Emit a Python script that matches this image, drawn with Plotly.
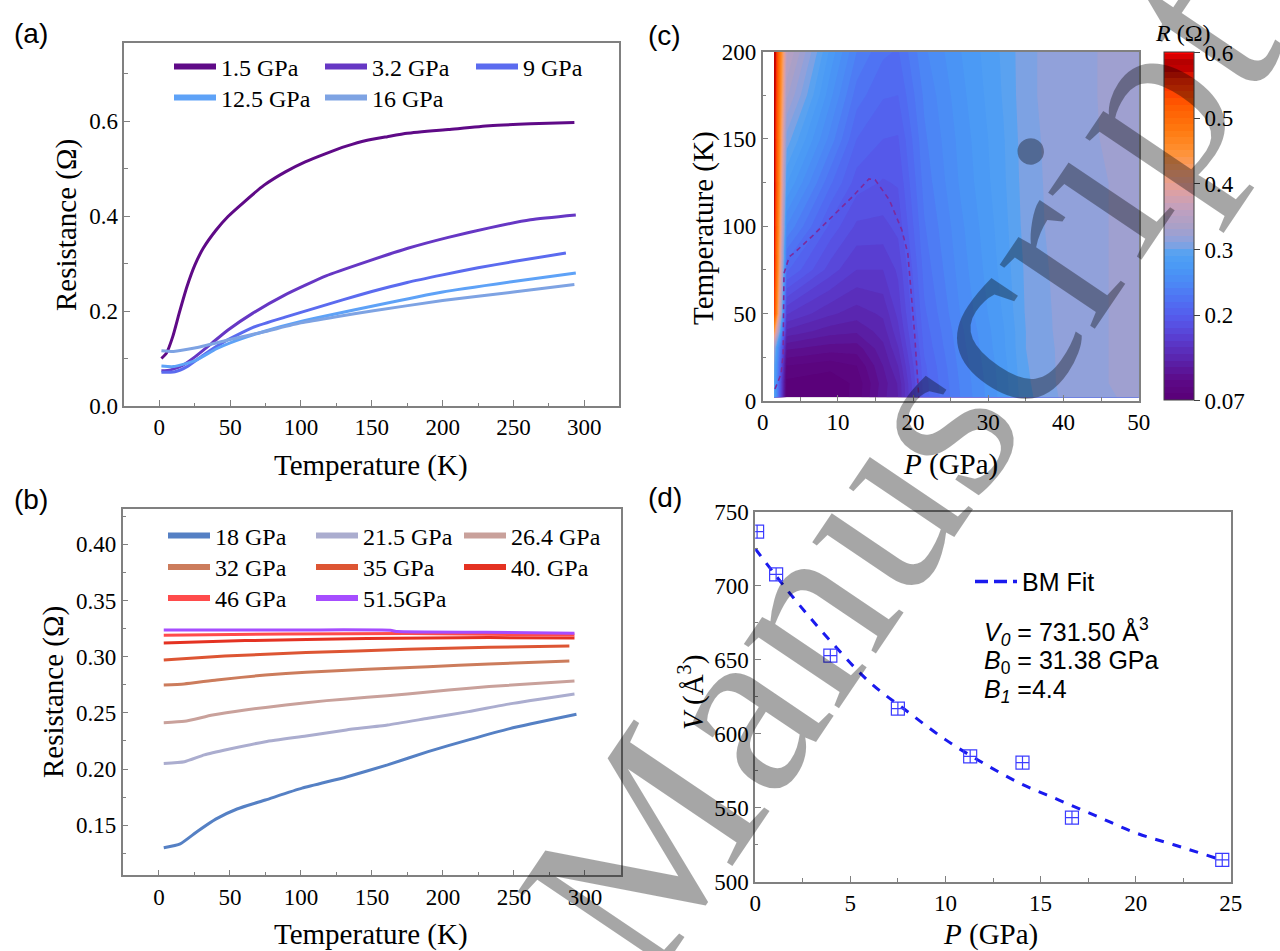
import plotly.graph_objects as go

W, H = 1280, 951

# ---------------- Panel (a) data ----------------
a_names = ["1.5 GPa", "3.2 GPa", "9 GPa", "12.5 GPa", "16 GPa"]
a_colors = ["#5f0a87", "#6637c4", "#5b6bef", "#5ea2f7", "#7ea3e3"]
a_T_1p5 = [1.5, 5, 9.5, 14, 19.5, 25, 31, 40, 48.5, 60, 74, 89, 103, 118, 132, 146, 161, 175, 204, 233, 262, 293]
a_R_1p5 = [0.100, 0.111, 0.146, 0.195, 0.251, 0.296, 0.332, 0.370, 0.399, 0.430, 0.465, 0.493, 0.514, 0.532,
           0.547, 0.559, 0.567, 0.574, 0.582, 0.590, 0.594, 0.597]
a_T_3p2 = [1.5, 8, 16.7, 25.4, 37, 48.5, 65.8, 88.8, 117.7, 146.5, 175.4, 204, 233, 262, 294]
a_R_3p2 = [0.074, 0.076, 0.086, 0.104, 0.132, 0.160, 0.195, 0.234, 0.274, 0.304, 0.332, 0.355, 0.375, 0.392, 0.402]
a_T_9 = [1.5, 11, 19.6, 31, 45.6, 65.8, 88.8, 110, 130, 150, 175, 200, 225, 250, 287]
a_R_9 = [0.071, 0.072, 0.083, 0.107, 0.135, 0.165, 0.187, 0.206, 0.224, 0.241, 0.260, 0.276, 0.291, 0.304, 0.322]
a_T_12p5 = [1.5, 10, 25, 40, 50, 75, 100, 150, 200, 250, 294]
a_R_12p5 = [0.084, 0.083, 0.095, 0.120, 0.133, 0.158, 0.178, 0.210, 0.240, 0.262, 0.280]
a_T_16 = [1.5, 10, 25, 50, 75, 100, 125, 150, 200, 250, 293]
a_R_16 = [0.1165, 0.115, 0.122, 0.140, 0.157, 0.175, 0.188, 0.200, 0.222, 0.240, 0.256]

# ---------------- Panel (b) data ----------------
b_names = ["18 GPa", "21.5 GPa", "26.4 GPa", "32 GPa", "35 GPa", "40. GPa", "46 GPa", "51.5GPa"]
b_colors = ["#5580c4", "#abadcf", "#c9a19b", "#cc7c5c", "#dd5533", "#e43222", "#ff4b4b", "#a64dff"]
b_T_18 = [3.4, 15, 27, 40, 55, 75, 100.8, 132, 161, 189.5, 218, 247, 294]
b_R_18 = [0.130, 0.1335, 0.1445, 0.1555, 0.1645, 0.1725, 0.183, 0.193, 0.2037, 0.2155, 0.226, 0.236, 0.2487]
b_T_21p5 = [3.4, 18, 32, 49, 75, 103.6, 132, 161, 189.5, 218, 247, 292.6]
b_R_21p5 = [0.205, 0.2065, 0.2126, 0.2176, 0.2244, 0.2295, 0.2348, 0.2392, 0.2452, 0.2511, 0.258, 0.2668]
b_T_26p4 = [3.4, 18, 37.8, 60.7, 89.3, 118, 146.6, 175, 204, 232.5, 292.6]
b_R_26p4 = [0.2413, 0.2425, 0.2481, 0.2526, 0.257, 0.2609, 0.2639, 0.2668, 0.2704, 0.2734, 0.2784]
b_T_32 = [3.4, 17.8, 40.7, 75, 103.6, 146.6, 189.5, 232.5, 289]
b_R_32 = [0.2748, 0.2757, 0.2793, 0.2837, 0.2861, 0.2888, 0.2911, 0.2935, 0.2962]
b_T_35 = [3.4, 46.4, 103.6, 175, 232.5, 289]
b_R_35 = [0.2971, 0.3006, 0.3036, 0.3066, 0.3083, 0.3095]
b_T_40 = [3.4, 60.7, 146.6, 232.5, 292.6]
b_R_40 = [0.3122, 0.3143, 0.3161, 0.3170, 0.3167]
b_T_46 = [3.4, 89, 175, 292.6]
b_R_46 = [0.3190, 0.3202, 0.3205, 0.3193]
b_T_51p5 = [3.4, 100, 163, 168, 230, 292.6]
b_R_51p5 = [0.3238, 0.3238, 0.3235, 0.3223, 0.3217, 0.3208]

# ---------------- Panel (c) data ----------------
c_P = [1.5, 3.2, 9, 12.5, 16, 18, 21.5, 26.4, 32, 35, 40, 46, 51.5]
c_T = [2, 10, 20, 30, 40, 50, 75, 100, 125, 150, 175, 200]
c_R = [
    [0.300, 0.074, 0.071, 0.084, 0.117, 0.130, 0.205, 0.241, 0.275, 0.297, 0.312, 0.319, 0.324],
    [0.300, 0.077, 0.072, 0.083, 0.115, 0.131, 0.206, 0.242, 0.275, 0.298, 0.313, 0.320, 0.324],
    [0.310, 0.090, 0.084, 0.090, 0.120, 0.140, 0.208, 0.244, 0.276, 0.299, 0.313, 0.320, 0.324],
    [0.330, 0.112, 0.105, 0.105, 0.127, 0.149, 0.212, 0.246, 0.278, 0.300, 0.313, 0.320, 0.324],
    [0.450, 0.138, 0.125, 0.122, 0.135, 0.157, 0.215, 0.248, 0.279, 0.300, 0.314, 0.320, 0.324],
    [0.550, 0.161, 0.142, 0.135, 0.142, 0.163, 0.218, 0.251, 0.281, 0.301, 0.314, 0.320, 0.324],
    [0.570, 0.212, 0.175, 0.160, 0.160, 0.172, 0.224, 0.255, 0.284, 0.302, 0.315, 0.320, 0.324],
    [0.580, 0.250, 0.197, 0.178, 0.177, 0.183, 0.229, 0.258, 0.286, 0.304, 0.316, 0.320, 0.324],
    [0.590, 0.281, 0.222, 0.195, 0.189, 0.191, 0.234, 0.262, 0.288, 0.305, 0.316, 0.320, 0.324],
    [0.590, 0.306, 0.246, 0.210, 0.200, 0.199, 0.238, 0.264, 0.289, 0.306, 0.316, 0.321, 0.324],
    [0.595, 0.332, 0.263, 0.225, 0.211, 0.210, 0.242, 0.267, 0.291, 0.307, 0.317, 0.321, 0.323],
    [0.600, 0.353, 0.277, 0.240, 0.222, 0.219, 0.248, 0.270, 0.292, 0.307, 0.317, 0.321, 0.323],
]
c_bound_P = [1.63, 2.45, 2.72, 2.83, 2.83, 3.53, 4.35, 6.52, 9.24, 11.96, 14.13, 14.95, 16.85, 18.5, 19.3, 19.84, 20.2, 20.76]
c_bound_T = [6.7, 15.3, 26.8, 57.5, 72.9, 82.5, 85.3, 94, 105.5, 117, 127.1, 126.6, 115, 97.8, 84.4, 57.5, 38.4, 1.9]
c_cbar_vals = [0.07, 0.2, 0.3, 0.4, 0.5, 0.6]
c_cbar_text = ["0.07", "0.2", "0.3", "0.4", "0.5", "0.6"]

# ---------------- Panel (d) data ----------------
d_P = [0.1, 1.1, 3.95, 7.5, 11.3, 14.05, 16.65, 24.55]
d_V = [736.5, 707.7, 652.7, 616.9, 584.7, 580.4, 543.3, 514.7]
d_fit_P = [0, 2, 4, 6, 8, 10, 12, 14, 16, 18, 20, 22, 24.2]
d_fit_V = [725, 692, 662, 635, 615, 596, 580, 566, 555, 544, 533, 525, 516]

SERIF = "Liberation Serif"
SANS = "Liberation Sans"
FRAME = "#808080"
TICKFONT = dict(family=SERIF, size=23, color="black")


def px_x(v):
    return v / W


def px_y(v):
    return 1 - v / H


fig = go.Figure()

# ----- panel (a) traces -----
a_T = [a_T_1p5, a_T_3p2, a_T_9, a_T_12p5, a_T_16]
a_R = [a_R_1p5, a_R_3p2, a_R_9, a_R_12p5, a_R_16]
for i in range(5):
    fig.add_trace(go.Scatter(x=a_T[i], y=a_R[i], mode="lines",
                             line=dict(color=a_colors[i], width=3, shape="spline", smoothing=0.5),
                             showlegend=False, xaxis="x", yaxis="y", hoverinfo="skip"))
for i in range(5):
    fig.add_trace(go.Scatter(x=[None], y=[None], mode="lines", name=a_names[i], line=dict(color=a_colors[i], width=6),
                             xaxis="x", yaxis="y", legend="legend" if i < 3 else "legend2"))

# ----- panel (b) traces -----
b_T = [b_T_18, b_T_21p5, b_T_26p4, b_T_32, b_T_35, b_T_40, b_T_46, b_T_51p5]
b_R = [b_R_18, b_R_21p5, b_R_26p4, b_R_32, b_R_35, b_R_40, b_R_46, b_R_51p5]
for i in range(8):
    fig.add_trace(go.Scatter(x=b_T[i], y=b_R[i], mode="lines",
                             line=dict(color=b_colors[i], width=3, shape="spline", smoothing=0.5),
                             showlegend=False, xaxis="x2", yaxis="y2", hoverinfo="skip"))
for i in range(8):
    lg = "legend3" if i < 3 else ("legend4" if i < 6 else "legend5")
    fig.add_trace(go.Scatter(x=[None], y=[None], mode="lines", name=b_names[i], line=dict(color=b_colors[i], width=6),
                             xaxis="x2", yaxis="y2", legend=lg))

# ----- panel (c) contour -----
cscale = [
    [0.000, "#000000"], [0.004, "#5a0078"], [0.057, "#5c0a88"], [0.113, "#5a22aa"], [0.170, "#5a3acc"],
    [0.226, "#5655e8"], [0.283, "#506ef3"], [0.330, "#4c86f5"], [0.380, "#4a98f5"], [0.420, "#52a2f3"],
    [0.445, "#80a2e2"], [0.470, "#98a0d6"], [0.495, "#a8a0c8"], [0.547, "#c0a0c0"], [0.604, "#e0a0a0"],
    [0.660, "#f8a070"], [0.717, "#ff9030"], [0.774, "#ff7a10"], [0.849, "#ff5a00"], [0.906, "#ff3000"],
    [0.953, "#c00000"], [0.981, "#b00000"], [1.000, "#ff0000"],
]
fig.add_trace(go.Contour(
    x=c_P, y=c_T, z=c_R, xaxis="x3", yaxis="y3",
    colorscale=cscale, zmin=0.07, zmax=0.6, autocontour=False,
    contours=dict(start=0.07, end=0.6, size=0.01, coloring="fill", showlines=False),
    line=dict(width=0, smoothing=0),
    colorbar=dict(x=px_x(1164.3), xanchor="left", xpad=0, ypad=0, thickness=30, thicknessmode="pixels",
                  len=(400.7 - 52.3) / H, lenmode="fraction", y=px_y((52.3 + 400.7) / 2), yanchor="middle",
                  outlinewidth=1, outlinecolor="#404040", ticks="outside", ticklen=6, tickcolor="#404040",
                  tickvals=c_cbar_vals, ticktext=c_cbar_text, tickfont=TICKFONT),
    hoverinfo="skip", showlegend=False,
))
fig.add_trace(go.Scatter(x=c_bound_P, y=c_bound_T, mode="lines", line=dict(color="#7d2a9c", width=1.6, dash="5px,4px"),
                         xaxis="x3", yaxis="y3", showlegend=False, hoverinfo="skip"))

# ----- panel (d) -----
fig.add_trace(go.Scatter(x=d_fit_P, y=d_fit_V, mode="lines", showlegend=False,
                         line=dict(color="#1a1aee", width=3, dash="9px,9px", shape="spline"),
                         xaxis="x4", yaxis="y4", hoverinfo="skip"))
fig.add_trace(go.Scatter(x=[None], y=[None], mode="lines", name="BM Fit",
                         line=dict(color="#1a1aee", width=3.5, dash="13px,6px"),
                         xaxis="x4", yaxis="y4", legend="legend6"))
fig.add_trace(go.Scatter(x=d_P, y=d_V, mode="markers", showlegend=False,
                         marker=dict(symbol="square-cross-open", size=13, color="#3c3cff", line=dict(width=1.2)),
                         xaxis="x4", yaxis="y4", hoverinfo="skip"))


def axis(domain, rng, dtick, minor_dtick, anchor, tickformat=None):
    d = dict(domain=domain, range=rng, dtick=dtick, tick0=0, ticks="inside", ticklen=6, tickwidth=1.2,
             tickcolor=FRAME, showline=True, linecolor=FRAME, linewidth=1.5, mirror=True, showgrid=False,
             zeroline=False, tickfont=TICKFONT,
             minor=dict(ticks="inside", ticklen=3.5, dtick=minor_dtick, tickcolor=FRAME, tickwidth=1.2,
                        showgrid=False),
             anchor=anchor, automargin=False, fixedrange=True)
    if tickformat:
        d["tickformat"] = tickformat
    return d


legend_common = dict(orientation="h", xanchor="left", yanchor="middle", bgcolor="rgba(0,0,0,0)", borderwidth=0,
                     font=dict(family=SERIF, size=24, color="black"), itemwidth=42, entrywidthmode="pixels",
                     itemclick=False, itemdoubleclick=False)

fig.update_layout(
    template="none",
    width=W, height=H, margin=dict(l=0, r=0, t=0, b=0), paper_bgcolor="white", plot_bgcolor="white",
    font=dict(family=SERIF, size=23, color="black"),
    xaxis=axis([px_x(124.3), px_x(619.3)], [-24.7, 324.7], 50, 25, "y"),
    yaxis=axis([px_y(406), px_y(43.3)], [0, 0.7636], 0.2, 0.1, "x", ".1f"),
    xaxis2=axis([px_x(122.7), px_x(620.5)], [-25.5, 325], 50, 25, "y2"),
    yaxis2=axis([px_y(875.3), px_y(509.3)], [0.1055, 0.4311], 0.05, 0.025, "x2", ".2f"),
    xaxis3=axis([px_x(762.7), px_x(1138.7)], [0, 50], 10, 5, "y3"),
    yaxis3=axis([px_y(400.7), px_y(51.7)], [0, 200], 50, 25, "x3"),
    xaxis4=axis([px_x(755.2), px_x(1230.8)], [0, 25], 5, 2.5, "y4"),
    yaxis4=axis([px_y(881.7), px_y(511.7)], [500, 750], 50, 25, "x4"),
    legend=dict(legend_common, x=px_x(169), y=px_y(67), entrywidth=94),
    legend2=dict(legend_common, x=px_x(169), y=px_y(98), entrywidth=94),
    legend3=dict(legend_common, x=px_x(163), y=px_y(536), entrywidth=91),
    legend4=dict(legend_common, x=px_x(163), y=px_y(567.3), entrywidth=91),
    legend5=dict(legend_common, x=px_x(163), y=px_y(598.3), entrywidth=91),
    legend6=dict(legend_common, x=px_x(970), y=px_y(581.7), entrywidth=120,
                 font=dict(family=SANS, size=25, color="black")),
    showlegend=True,
)

ann = []


def text(t, x, y, size, family=SERIF, angle=0, xanchor="center", color="black"):
    ann.append(dict(text=t, x=px_x(x), y=px_y(y), xref="paper", yref="paper", showarrow=False,
                    font=dict(family=family, size=size, color=color), textangle=angle,
                    xanchor=xanchor, yanchor="middle"))


# panel labels
text("(a)", 12, 33, 28, SANS, xanchor="left")
text("(b)", 12, 500, 28, SANS, xanchor="left")
text("(c)", 646, 36, 28, SANS, xanchor="left")
text("(d)", 646, 497, 28, SANS, xanchor="left")
# axis titles
text("Temperature (K)", 371, 465, 29)
text("Resistance (Ω)", 67, 225, 29, angle=-90)
text("Temperature (K)", 371, 934, 29)
text("Resistance (Ω)", 53, 692, 29, angle=-90)
text("<i>P</i> (GPa)", 950, 464, 29)
text("Temperature (K)", 703, 228, 29, angle=-90)
text("<i>P</i> (GPa)", 990, 934, 29)
text("<i>V</i> (Å<sup>3</sup>)", 691, 693, 29, angle=-90)
# colorbar title
text("<i>R</i> (Ω)", 1183, 33, 24)
# fit parameters
text("<i>V<sub>0</sub></i> = 731.50 Å<sup>3</sup>", 982, 632, 25, SANS, xanchor="left")
text("<i>B</i><sub>0</sub> = 31.38 GPa", 982, 662, 25, SANS, xanchor="left")
text("<i>B<sub>1</sub></i> =4.4", 982, 691, 25, SANS, xanchor="left")
# watermark
text("Manuscript", 897, 470, 250, SERIF, angle=-56, color="rgba(0,0,0,0.35)")

fig.update_layout(annotations=ann)
fig.write_html("out.html")
